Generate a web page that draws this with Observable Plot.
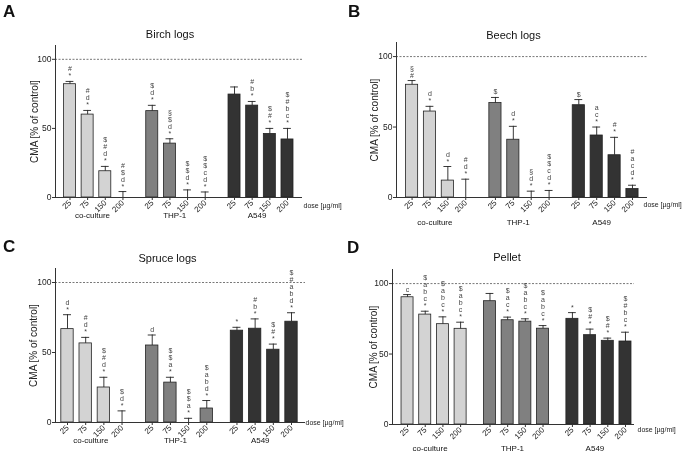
<!DOCTYPE html>
<html><head><meta charset="utf-8">
<script src="https://cdn.jsdelivr.net/npm/d3@7"></script>
<script src="https://cdn.jsdelivr.net/npm/@observablehq/plot@0.6"></script>
<style>
body{margin:0;background:#fff;font-family:"Liberation Sans",Arial,sans-serif;}
#wrap{position:relative;width:688px;height:456px;overflow:hidden;background:#fff;filter:grayscale(1);}
.panel{position:absolute;width:344px;height:228px;}
.panel svg{position:absolute;left:0;top:0;}
.letter{position:absolute;font-weight:bold;font-size:17px;line-height:1;color:#111;}
.title{position:absolute;font-size:11px;line-height:1;color:#111;transform:translate(-50%,-50%);white-space:nowrap;}
</style></head><body><div id="wrap"></div>
<script>
const groups = ["co-culture", "THP-1", "A549"];
const doses = ["25", "75", "150", "200"];
const barFill = ["#d3d3d3", "#808080", "#333333"];

const birchMean = [82, 60, 19, 0, 62.5, 39, 0, 0, 74.5, 66.5, 46, 42];
const birchErr = [2, 3, 3.5, 4.3, 4.2, 3.5, 5.5, 4, 5.5, 3, 4, 8];
const birchSig = ["#*", "#d*", "$#d*", "#$d*", "$d*", "§$d*", "$$d*", "$$cd*", "", "#b*", "$#*", "$#bc*"];

const beechMean = [80, 61, 12, 0, 67, 41, 0, 0, 65.5, 44, 30, 6];
const beechErr = [3, 3.7, 10, 13, 4, 9.5, 4.5, 5, 4, 6, 12.7, 2.7];
const beechSig = ["§#", "d*", "d*", "#d*", "$", "d*", "§d*", "$$cd*", "$", "ac*", "#*", "#acd*"];

const spruceMean = [66.7, 56.5, 25, 0, 55, 28.5, 0, 10, 65.6, 67, 52, 72];
const spruceErr = [10.3, 4.3, 7.3, 8.3, 7.5, 3.8, 3, 5.7, 2.4, 7, 4, 6.4];
const spruceSig = ["d*", "#d*", "$#d*", "$d*", "d", "$$a*", "$$a*", "$abd*", "*", "#b*", "$#*", "$#abd*"];

const pelletMean = [90.3, 78, 71.2, 67.9, 87.5, 74, 73, 68, 75, 63.4, 59.4, 58.9];
const pelletErr = [1.9, 2.4, 5.2, 4.7, 5.5, 2.2, 2, 2.2, 4.4, 4.3, 1.9, 6.6];
const pelletSig = ["c", "$abc*", "$abc*", "$abc*", "", "$ac*", "$abc*", "$abc*", "*", "$#*", "$#*", "$#bc*"];

const GAP = 4.66;
const panels = [
  {letter: "A", title: "Birch logs", mean: birchMean, err: birchErr, sig: birchSig, left: 0, top: 0,
   ml: 55, mr: 42, mt: 45, mb: 31, xd: [-0.82, 13.17], gdy: 20, ddy: 10, ddx: 1, tx: 170, ty: 34, lx: 3, ly: 3, ylx: 34},
  {letter: "B", title: "Beech logs", mean: beechMean, err: beechErr, sig: beechSig, left: 344, top: 0,
   ml: 52, mr: 41, mt: 42, mb: 31, xd: [-0.87, 13.16], gdy: 27, ddy: 9, ddx: -4, tx: 169.5, ty: 35, lx: 4, ly: 3, ylx: 30.5},
  {letter: "C", title: "Spruce logs", mean: spruceMean, err: spruceErr, sig: spruceSig, left: 0, top: 228,
   ml: 55, mr: 39, mt: 40, mb: 34, xd: [-0.66, 13.09], gdy: 20, ddy: 2, ddx: 0, tx: 167.5, ty: 30, lx: 3, ly: 10, ylx: 33},
  {letter: "D", title: "Pellet", mean: pelletMean, err: pelletErr, sig: pelletSig, left: 344, top: 228,
   ml: 48, mr: 54, mt: 41, mb: 32, xd: [-0.85, 12.83], gdy: 26, ddy: 7.5, ddx: 3, tx: 163, ty: 29, lx: 3, ly: 11, ylx: 29}
];

const wrap = document.getElementById("wrap");
const font = "Liberation Sans, Arial, sans-serif";

for (const cfg of panels) {
  const rows = [];
  groups.forEach((g, gi) => doses.forEach((d, di) => {
    const k = gi * 4 + di;
    rows.push({group: g, dose: d, pos: gi * GAP + di, mean: cfg.mean[k], err: cfg.err[k], sig: cfg.sig[k]});
  }));
  const doseByPos = new Map(rows.map(r => [r.pos, r.dose]));
  const ink = "#333";

  const chart = Plot.plot({
    width: 344, height: 228,
    marginLeft: cfg.ml, marginRight: cfg.mr, marginTop: cfg.mt, marginBottom: cfg.mb,
    style: {fontFamily: font, fontSize: "8px", background: "transparent", color: "#333", overflow: "visible"},
    x: {type: "linear", domain: cfg.xd, axis: null},
    y: {domain: [0, 110], axis: null},
    color: {domain: groups, range: barFill},
    marks: [
      Plot.ruleY([100], {stroke: "#555", strokeDasharray: "2,1.5", strokeWidth: 0.8}),
      Plot.rectY(rows.filter(d => d.mean > 0), {x1: d => d.pos - 0.34, x2: d => d.pos + 0.34, y1: 0, y2: "mean",
        fill: "group", stroke: "#222", strokeWidth: 0.8}),
      Plot.ruleX(rows, {x: "pos", y1: "mean", y2: d => d.mean + d.err, stroke: "#222", strokeWidth: 0.9}),
      Plot.ruleY(rows, {y: d => d.mean + d.err, x1: d => d.pos - 0.22, x2: d => d.pos + 0.22, stroke: "#222", strokeWidth: 0.9}),
      Plot.text(rows.filter(d => d.sig.length), {x: "pos", y: d => d.mean + d.err, text: d => d.sig.split("").join("\n"),
        lineAnchor: "bottom", dy: -3, fontSize: 7, lineHeight: 1, fill: "#444"}),
      Plot.axisY({ticks: [0, 50, 100], tickSize: 3, tickPadding: 1, label: null, fontSize: 8.5, stroke: ink, fill: "#222"}),
      Plot.ruleX([cfg.xd[0]], {y1: 0, y2: 110, stroke: ink, strokeWidth: 1}),
      Plot.ruleY([0], {stroke: ink, strokeWidth: 1}),
      Plot.axisX({ticks: rows.map(r => r.pos), tickFormat: p => doseByPos.get(p), tickRotate: -45,
        tickSize: 3, tickPadding: 1, label: null, fontSize: 8, stroke: ink, fill: "#222"}),
      Plot.text(["CMA [% of control]"], {text: d => d, frameAnchor: "left", textAnchor: "middle", lineAnchor: "middle",
        rotate: -90, dx: cfg.ylx - cfg.ml, fontSize: 10, fill: "#222"}),
      Plot.text(groups, {text: d => d, x: (d, i) => i * GAP + 1.5, frameAnchor: "bottom", textAnchor: "middle",
        dy: cfg.gdy, dx: -4, fontSize: 8, fill: "#111"}),
      Plot.text(["dose [µg/ml]"], {text: d => d, frameAnchor: "bottom-right", textAnchor: "start", dx: cfg.ddx, dy: cfg.ddy,
        fontSize: 7, fill: "#222"})
    ]
  });

  const div = document.createElement("div");
  div.className = "panel";
  div.style.left = cfg.left + "px";
  div.style.top = cfg.top + "px";
  div.appendChild(chart);
  const L = document.createElement("div");
  L.className = "letter"; L.textContent = cfg.letter;
  L.style.left = cfg.lx + "px"; L.style.top = cfg.ly + "px";
  div.appendChild(L);
  const T = document.createElement("div");
  T.className = "title"; T.textContent = cfg.title;
  T.style.left = cfg.tx + "px"; T.style.top = cfg.ty + "px";
  div.appendChild(T);
  wrap.appendChild(div);
}
</script></body></html>
